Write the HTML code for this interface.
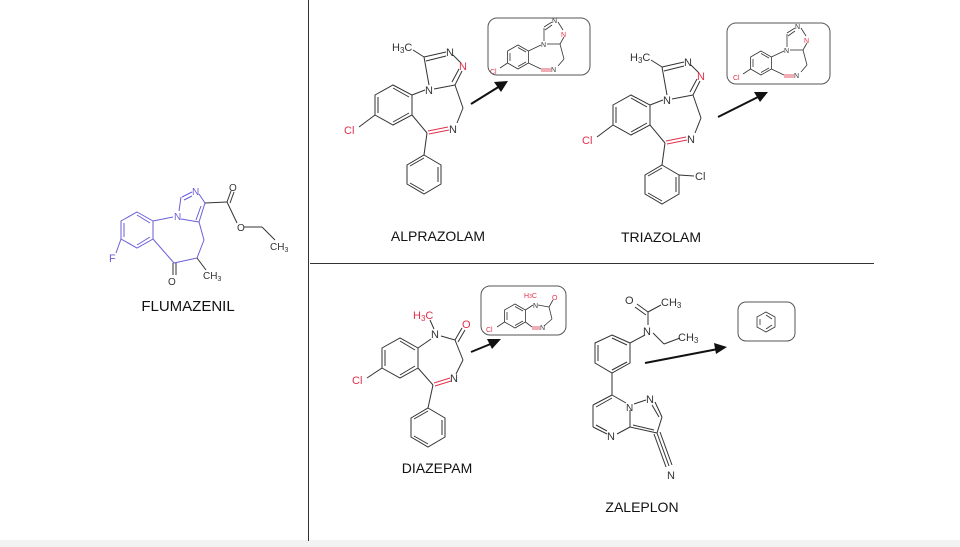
<!DOCTYPE html>
<html><head><meta charset="utf-8"><style>
html,body{margin:0;padding:0;background:#fff}
svg{display:block;font-family:"Liberation Sans",sans-serif}
</style></head><body>
<svg width="960" height="547" viewBox="0 0 960 547" xmlns="http://www.w3.org/2000/svg">
<defs>
<g id="alp">
<g fill="none" stroke="#333" stroke-width="1">
<polygon points="375,95 393,85 412,95 412,115 393,125 375,115"/>
<line x1="378" y1="97" x2="378" y2="113"/><line x1="393" y1="122" x2="409" y2="113"/><line x1="393" y1="88" x2="409" y2="97"/>
<line x1="375" y1="115" x2="359" y2="127"/>
<line x1="412" y1="95" x2="425" y2="90"/>
<line x1="429" y1="85" x2="424" y2="57"/>
<line x1="424" y1="57" x2="413" y2="50"/>
<line x1="424" y1="57" x2="446" y2="52"/><line x1="426" y1="61" x2="446" y2="56"/>
<line x1="453" y1="55" x2="461" y2="63"/>
<line x1="462" y1="71" x2="455" y2="85"/><line x1="459" y1="69" x2="452" y2="82"/>
<line x1="434" y1="89" x2="455" y2="85"/>
<line x1="455" y1="85" x2="463" y2="108"/><line x1="463" y1="108" x2="457" y2="123"/>
<line x1="427" y1="133" x2="412" y2="115"/>
<line x1="427" y1="133" x2="424" y2="155"/>
<polygon points="424,155 441,165 441,184 424,194 407,184 407,165"/>
<line x1="438" y1="167" x2="438" y2="182"/><line x1="424" y1="191" x2="410" y2="183"/><line x1="410" y1="166" x2="424" y2="158"/>
</g>
<line x1="428" y1="131" x2="448" y2="127" stroke="#e0304a"/><line x1="429" y1="134" x2="449" y2="130" stroke="#e0304a"/>
<g font-size="11" fill="#333"><text x="392" y="51">H<tspan font-size="8" dy="2">3</tspan><tspan dy="-2">C</tspan></text><text x="446" y="56">N</text><text x="425" y="94">N</text><text x="449" y="133">N</text></g>
<text x="459" y="70" font-size="11" fill="#e0304a">N</text>
<text x="344" y="134" font-size="11" fill="#e0304a">Cl</text>
</g>
<g id="abox">
<g fill="none" stroke="#333" stroke-width="0.8">
<polygon points="518,45 528.4,51 528.4,63 518,69 507.6,63 507.6,51"/>
<line x1="510" y1="53" x2="510" y2="61"/><line x1="518" y1="66.5" x2="526" y2="62"/><line x1="518" y1="47.5" x2="526" y2="52"/>
<line x1="528.4" y1="51" x2="541" y2="45"/>
<line x1="544" y1="41" x2="544" y2="28"/><line x1="544" y1="27" x2="552" y2="22"/><line x1="545" y1="30" x2="552" y2="25"/>
<line x1="558" y1="22" x2="563" y2="30"/><line x1="564" y1="37" x2="560" y2="44"/>
<line x1="547" y1="44" x2="560" y2="44"/><line x1="560" y1="44" x2="564" y2="59"/><line x1="564" y1="59" x2="558" y2="66"/>
<line x1="507.6" y1="63" x2="500" y2="68"/>
<line x1="528.4" y1="63" x2="541" y2="69"/>
</g>
<line x1="541" y1="69" x2="551" y2="69" stroke="#e0304a" stroke-width="0.8"/><line x1="541" y1="71" x2="551" y2="71" stroke="#e0304a" stroke-width="0.8"/>
<g font-size="7"><text x="490" y="74" fill="#e0304a">Cl</text><text x="541" y="47" fill="#333">N</text><text x="552" y="23" fill="#333">N</text><text x="561" y="37" fill="#e0304a">N</text><text x="551" y="72" fill="#333">N</text></g>
</g>
</defs>
<rect x="0" y="540" width="960" height="7" fill="#f2f2f2"/>
<line x1="308.5" y1="0" x2="308.5" y2="541" stroke="#333" stroke-width="1"/>
<line x1="310" y1="263.5" x2="874" y2="263.5" stroke="#333" stroke-width="1"/>

<!-- FLUMAZENIL -->
<g fill="none" stroke="#6a5fd8" stroke-width="1">
<polygon points="137,212 153,221 153,239 137,248 121,239 121,221"/>
<line x1="124" y1="223" x2="124" y2="237"/><line x1="137" y1="245" x2="150" y2="237"/><line x1="137" y1="215" x2="150" y2="223"/>
<line x1="121" y1="239" x2="116" y2="253"/>
<line x1="153" y1="221" x2="173" y2="217"/>
<line x1="179" y1="211" x2="181" y2="197"/><line x1="182" y1="197" x2="192" y2="192"/><line x1="184" y1="200" x2="192" y2="196"/>
<line x1="199" y1="194" x2="205" y2="203"/><line x1="205" y1="203" x2="199" y2="222"/><line x1="201" y1="206" x2="196" y2="220"/>
<line x1="181" y1="219" x2="199" y2="222"/>
<line x1="199" y1="222" x2="204" y2="240"/><line x1="204" y1="240" x2="197" y2="258"/>
<line x1="153" y1="239" x2="174" y2="263"/><line x1="174" y1="263" x2="197" y2="258"/>
</g>
<g fill="none" stroke="#333" stroke-width="1">
<line x1="173" y1="263" x2="173" y2="275"/><line x1="176" y1="263" x2="176" y2="275"/>
<line x1="197" y1="258" x2="206" y2="270"/>
<line x1="205" y1="203" x2="227" y2="202"/><line x1="227" y1="202" x2="231" y2="191"/><line x1="230" y1="203" x2="234" y2="192"/>
<line x1="227" y1="202" x2="237" y2="223"/><line x1="244" y1="227" x2="262" y2="227"/><line x1="262" y1="227" x2="275" y2="240"/>
</g>
<g font-size="11" fill="#6a5fd8"><text x="109" y="262">F</text><text x="174" y="220" font-size="10">N</text><text x="192" y="195" font-size="10">N</text></g>
<g font-size="10" fill="#333"><text x="229" y="191">O</text><text x="237" y="231">O</text><text x="168" y="285">O</text><text x="203" y="279">CH<tspan font-size="7" dy="2">3</tspan></text><text x="270" y="250">CH<tspan font-size="7" dy="2">3</tspan></text></g>
<text x="188" y="311" font-size="15" text-anchor="middle" fill="#111">FLUMAZENIL</text>

<!-- ALPRAZOLAM -->
<use href="#alp"/>
<use href="#abox"/>
<text x="438" y="241" font-size="14" text-anchor="middle" fill="#111">ALPRAZOLAM</text>

<!-- TRIAZOLAM -->
<g transform="translate(238,10)">
<use href="#alp"/>
<line x1="441" y1="165" x2="456" y2="166" stroke="#333"/>
<text x="457" y="170" font-size="11" fill="#333">Cl</text>
</g>
<use href="#abox" transform="translate(243,6)"/>
<text x="661" y="242" font-size="14" text-anchor="middle" fill="#111">TRIAZOLAM</text>

<!-- DIAZEPAM -->
<g fill="none" stroke="#333" stroke-width="1">
<polygon points="382,348 400,338 418,348 418,368 400,378 382,368"/>
<line x1="385" y1="350" x2="385" y2="366"/><line x1="400" y1="375" x2="415" y2="366"/><line x1="400" y1="341" x2="415" y2="350"/>
<line x1="382" y1="368" x2="367" y2="378"/>
<line x1="418" y1="348" x2="431" y2="339"/>
<line x1="434" y1="329" x2="430" y2="320"/>
<line x1="441" y1="336" x2="455" y2="340"/><line x1="455" y1="340" x2="463" y2="360"/><line x1="463" y1="360" x2="456" y2="374"/>
<line x1="433" y1="385" x2="418" y2="368"/><line x1="433" y1="385" x2="428" y2="408"/>
<polygon points="428,408 445,418 445,437 428,447 411,437 411,418"/>
<line x1="442" y1="420" x2="442" y2="435"/><line x1="428" y1="444" x2="414" y2="436"/><line x1="414" y1="419" x2="428" y2="411"/>
</g>
<line x1="455" y1="340" x2="462" y2="328" stroke="#333"/><line x1="458" y1="342" x2="465" y2="330" stroke="#333"/>
<line x1="434" y1="383" x2="450" y2="378" stroke="#e0304a"/><line x1="435" y1="386" x2="451" y2="381" stroke="#e0304a"/>
<text x="413" y="319" font-size="11" fill="#e0304a">H<tspan font-size="8" dy="2">3</tspan><tspan dy="-2">C</tspan></text>
<text x="431" y="338" font-size="11" fill="#333">N</text>
<text x="462" y="328" font-size="11" fill="#e0304a">O</text>
<text x="450" y="382" font-size="11" fill="#333">N</text>
<text x="352" y="384" font-size="11" fill="#e0304a">Cl</text>
<!-- diazepam box content -->
<g fill="none" stroke="#333" stroke-width="0.8">
<polygon points="515,304 525.4,310 525.4,322 515,328 504.6,322 504.6,310"/>
<line x1="507" y1="312" x2="507" y2="320"/><line x1="515" y1="325.5" x2="523" y2="321"/><line x1="515" y1="306.5" x2="523" y2="311"/>
<line x1="525.4" y1="310" x2="533" y2="305"/>
<line x1="538" y1="305" x2="549" y2="307"/><line x1="549" y1="307" x2="553" y2="300"/>
<line x1="549" y1="307" x2="552" y2="319"/><line x1="552" y1="319" x2="544" y2="326"/>
<line x1="504.6" y1="322" x2="497" y2="327"/>
<line x1="525.4" y1="322" x2="532" y2="327"/>
</g>
<line x1="532" y1="327" x2="540" y2="327" stroke="#e0304a" stroke-width="0.8"/><line x1="532" y1="329" x2="540" y2="329" stroke="#e0304a" stroke-width="0.8"/>
<g font-size="7"><text x="486" y="332" fill="#e0304a">Cl</text><text x="533" y="308" fill="#333">N</text><text x="524" y="298" fill="#e0304a">H<tspan font-size="5">3</tspan>C</text><text x="552" y="300" fill="#e0304a">O</text><text x="540" y="330" fill="#333">N</text></g>
<text x="437" y="473" font-size="14" text-anchor="middle" fill="#111">DIAZEPAM</text>

<!-- ZALEPLON -->
<g fill="none" stroke="#333" stroke-width="1">
<polygon points="612,335 630,343 630,363 612,373 595,363 595,343"/>
<line x1="598" y1="345" x2="598" y2="361"/><line x1="612" y1="370" x2="627" y2="362"/><line x1="612" y1="338" x2="627" y2="345"/>
<line x1="630" y1="343" x2="645" y2="335"/><line x1="648" y1="325" x2="648" y2="312"/>
<line x1="648" y1="312" x2="637" y2="304"/><line x1="646" y1="315" x2="635" y2="307"/><line x1="648" y1="312" x2="661" y2="305"/>
<line x1="653" y1="333" x2="664" y2="344"/><line x1="664" y1="344" x2="680" y2="338"/>
<line x1="612" y1="373" x2="612" y2="395"/>
<line x1="612" y1="395" x2="593" y2="405"/><line x1="612" y1="398" x2="596" y2="407"/>
<line x1="593" y1="405" x2="593" y2="427"/>
<line x1="593" y1="427" x2="607" y2="434"/><line x1="596" y1="425" x2="607" y2="431"/>
<line x1="617" y1="434" x2="630" y2="427"/>
<line x1="630" y1="427" x2="630" y2="410"/><line x1="612" y1="395" x2="626" y2="403"/>
<line x1="634" y1="404" x2="646" y2="400"/>
<line x1="655" y1="402" x2="662" y2="417"/><line x1="652" y1="405" x2="659" y2="417"/>
<line x1="662" y1="417" x2="657" y2="433"/><line x1="657" y1="433" x2="630" y2="427"/><line x1="654" y1="430" x2="633" y2="425"/>
<line x1="657" y1="433" x2="669" y2="466"/><line x1="660" y1="432" x2="672" y2="465"/><line x1="654" y1="434" x2="666" y2="467"/>
</g>
<g font-size="11" fill="#333"><text x="625" y="304">O</text><text x="661" y="306">CH<tspan font-size="8" dy="2">3</tspan></text><text x="643" y="335">N</text><text x="678" y="341">CH<tspan font-size="8" dy="2">3</tspan></text>
<text x="626" y="411" font-size="10">N</text><text x="646" y="403">N</text><text x="607" y="440">N</text><text x="667" y="479">N</text></g>
<text x="642" y="512" font-size="14" text-anchor="middle" fill="#111">ZALEPLON</text>

<!-- arrows -->
<g stroke="#111" stroke-width="2"><line x1="471" y1="104" x2="500" y2="86"/><line x1="718" y1="117" x2="760" y2="96"/><line x1="471" y1="352" x2="493" y2="343"/><line x1="645" y1="363" x2="718" y2="349"/></g>
<g fill="#111"><polygon points="508,81 494,82 501,92"/><polygon points="768,92 754,92 760,102"/><polygon points="501,339 487,339 492,349"/><polygon points="727,347 714,343 716,354"/></g>

<!-- boxes -->
<g fill="none" stroke="#555" stroke-width="1">
<rect x="488" y="18" width="102" height="57" rx="9"/>
<rect x="727" y="23" width="103" height="61" rx="9"/>
<rect x="481" y="286" width="85" height="49" rx="9"/>
<rect x="738" y="302" width="57" height="39" rx="8"/>
</g>
<g fill="none" stroke="#333" stroke-width="0.8">
<polygon points="766,312 775,317 775,327 766,332 757,327 757,317"/><line x1="760" y1="319" x2="760" y2="325"/><line x1="766" y1="329" x2="772" y2="325"/><line x1="766" y1="315" x2="772" y2="319"/>
</g>
</svg>
</body></html>
